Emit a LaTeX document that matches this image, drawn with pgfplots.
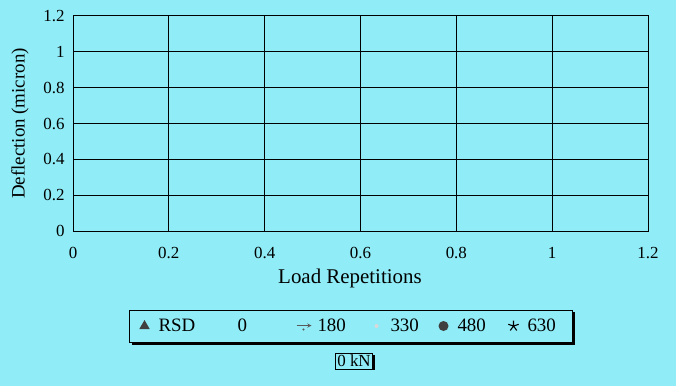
\documentclass[border=0pt]{standalone}
\usepackage{pgfplots}
\pgfplotsset{compat=1.18}
\usepackage{fontspec}
\setmainfont{Liberation Serif}
\usetikzlibrary{shadows}
\definecolor{bgcyan}{RGB}{144,236,246}
\begin{document}
\begin{tikzpicture}
\fill[bgcyan] (0,0) rectangle (676bp,386bp);
\begin{axis}[
  at={(73bp,155bp)}, anchor=south west,
  scale only axis, width=575bp, height=215bp,
  xmin=0, xmax=1.2, ymin=0, ymax=1.2,
  xtick={0,0.2,0.4,0.6,0.8,1,1.2},
  ytick={0,0.2,0.4,0.6,0.8,1,1.2},
  grid=major, grid style={black, line width=1pt},
  axis line style={black, line width=1pt},
  major tick length=0pt,
  /pgf/number format/assume math mode=true,
  tick label style={font=\fontsize{17}{19}\selectfont},
  xticklabel style={yshift=-13bp},
  yticklabel style={xshift=-5bp},
  xlabel={Load Repetitions}, ylabel={Deflection (micron)},
  xlabel style={at={(axis description cs:0.4817,-0.2186)}, anchor=center, font=\fontsize{21}{23}\selectfont},
  ylabel style={at={(axis description cs:-0.0922,0.5)}, anchor=center, font=\fontsize{19}{21}\selectfont},
  legend columns=6,
  legend style={name=leg, at={(axis description cs:0.4835,-0.4419)}, anchor=center,
    draw=black, line width=0.7pt, fill=bgcyan,
    inner xsep=3bp, inner ysep=7bp, column sep=0pt,
    font=\fontsize{19}{21}\selectfont,
    nodes={inner sep=2bp}},
  legend cell align=left,
]
\addlegendimage{legend image code/.code={\path[draw=none] (0,0) -- (24bp,0);
  \path[draw=none, fill=black!75] (12bp,0) ++(90:6bp) -- ++(240:10.4bp) -- ++(0:10.4bp) -- cycle;}}
\addlegendentry{\makebox[51bp][l]{RSD}}
\addlegendimage{legend image code/.code={\path[draw=none] (0,0) -- (24bp,0);}}
\addlegendentry{\makebox[52bp][l]{0}}
\addlegendimage{legend image code/.code={\path[draw=none] (0,0) -- (24bp,0);
  \draw[black!65, solid, line width=0.9pt, -stealth] (5bp,0.5bp) -- (20bp,0.5bp);
  \path[draw=none, fill=black!65] (12bp,-3.5bp) circle (1.1bp);}}
\addlegendentry{\makebox[45bp][l]{180}}
\addlegendimage{legend image code/.code={\path[draw=none] (0,0) -- (24bp,0);
  \path[draw=none, fill=black!15] (12bp,0) circle (2bp);}}
\addlegendentry{\makebox[39bp][l]{330}}
\addlegendimage{legend image code/.code={\path[draw=none] (0,0) -- (24bp,0);
  \path[draw=none, fill=black!75] (12bp,0) circle (5bp);}}
\addlegendentry{\makebox[42bp][l]{480}}
\addlegendimage{legend image code/.code={\path[draw=none] (0,0) -- (24bp,0);
  \draw[black, solid, line width=1.1pt] plot[mark=star, mark size=5.5bp, only marks] coordinates {(12bp,0)};}}
\addlegendentry{\makebox[40bp][l]{630}}
\end{axis}
\draw[black, line width=2.5bp] ([xshift=1.25bp,yshift=-2.5bp]leg.north east) |- ([xshift=2.5bp,yshift=-1.25bp]leg.south west);
\node[draw=black, line width=0.7pt, fill=bgcyan, inner sep=2bp,
  drop shadow={shadow xshift=2bp, shadow yshift=-1.5bp, fill=black, opacity=1},
  font=\fontsize{17}{19}\selectfont] at (354bp,25bp) {0 kN};
\pgfresetboundingbox
\useasboundingbox (0,0) rectangle (676bp,386bp);
\end{tikzpicture}
\end{document}
